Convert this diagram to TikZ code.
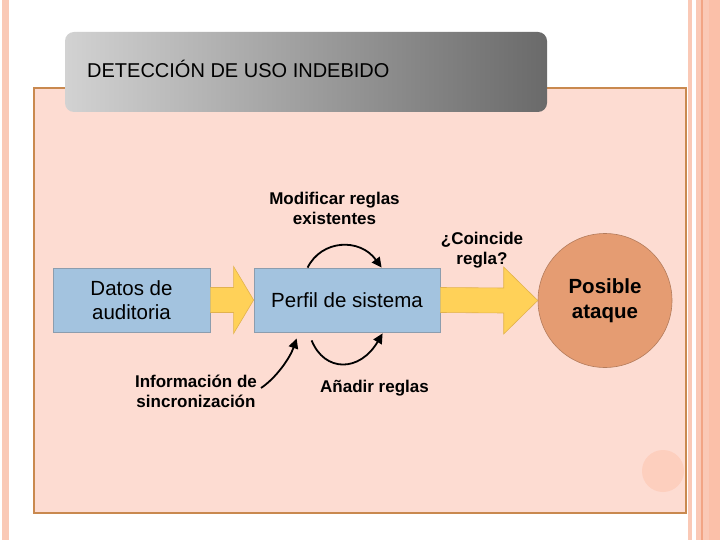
\documentclass[tikz,border=0pt]{standalone}
\usepackage{fontspec}
\setmainfont{Liberation Sans}
\usetikzlibrary{calc,arrows.meta}
\definecolor{stripe}{HTML}{FAC9B6}
\definecolor{stripedark}{HTML}{F2A585}
\definecolor{stripemid}{HTML}{FBC0A9}
\definecolor{panelfill}{HTML}{FDDCD2}
\definecolor{panelline}{HTML}{C9894F}
\definecolor{dotfill}{HTML}{FDCFBE}
\definecolor{boxfill}{HTML}{A3C3DF}
\definecolor{boxline}{HTML}{8C9DAE}
\definecolor{yfill}{HTML}{FFD158}
\definecolor{yline}{HTML}{E2B24E}
\definecolor{cfill}{HTML}{E59C72}
\definecolor{cline}{HTML}{B47C5C}
\definecolor{tleft}{HTML}{D2D2D2}
\definecolor{tmid}{HTML}{8E8E8E}
\definecolor{tright}{HTML}{6A6A6A}
\tikzset{
  bluebox/.style={draw=boxline, line width=0.8pt, fill=boxfill, align=center,
    font=\fontsize{20.5}{24}\selectfont},
  yarrow/.style={fill=yfill, draw=yline, line width=0.6pt, line join=miter},
  endcircle/.style={circle, fill=cfill, draw=cline, line width=0.6pt, minimum size=134pt,
    align=center, font=\fontsize{20.5}{25}\selectfont\bfseries},
  lbl/.style={align=center, font=\fontsize{17}{20}\selectfont\bfseries},
  curvearrow/.style={line width=1.8pt, -{Triangle[length=10pt,width=9.5pt]}}
}
\begin{document}
\begin{tikzpicture}[x=1pt,y=-1pt]
\useasboundingbox (0,0) rectangle (720,540);
\fill[white] (0,0) rectangle (720,540);
% side stripes
\fill[stripe] (2,0) rectangle (9,540);
\fill[stripe] (688,0) rectangle (692,540);
\fill[stripe] (696,0) rectangle (720,540);
\fill[stripedark] (701,0) rectangle (703,540);
\fill[stripemid] (709,0) rectangle (720,540);
% panel
\draw[fill=panelfill, draw=panelline, line width=2pt] (34,88) rectangle (686,513);
\fill[dotfill] (663,471) circle (21);
% title bar
\shade[rounded corners=9pt, left color=tleft, middle color=tmid, right color=tright]
  (65,32) rectangle (547,112);
\node[anchor=base west, inner sep=0pt, font=\fontsize{20}{22}\selectfont] (title) at (87,78)
  {DETECCIÓN DE USO INDEBIDO};
% main nodes
\node[bluebox, minimum width=157pt, minimum height=64pt] (datos) at (131.5,300) {Datos de\\auditoria};
\node[bluebox, minimum width=186pt, minimum height=64pt] (perfil) at (347,300) {Perfil de sistema};
\node[endcircle] (ataque) at (605,300.5) {Posible\\ataque};
% block arrows
\draw[yarrow] ($(datos.east)+(0,-12.5)$) -- ($(perfil.west)+(-20,-12.5)$)
  -- ($(perfil.west)+(-20,-33.5)$) -- (perfil.west) -- ($(perfil.west)+(-20,33.5)$)
  -- ($(perfil.west)+(-20,12.5)$) -- ($(datos.east)+(0,12.5)$);
\draw[yarrow] ($(perfil.east)+(0,-12.5)$) -- ($(ataque.west)+(-34,-12.5)$)
  -- ($(ataque.west)+(-34,-33.5)$) -- (ataque.west) -- ($(ataque.west)+(-34,33.5)$)
  -- ($(ataque.west)+(-34,12.5)$) -- ($(perfil.east)+(0,12.5)$);
% labels
\node[lbl] (modif) at (334.5,208) {Modificar reglas\\existentes};
\node[lbl] (coinc) at (482,250) {¿Coincide\\regla?};
\node[lbl] (info) at (196,391) {Información de\\sincronización};
\node[lbl, anchor=base] (anadir) at (374.5,392) {Añadir reglas};
% curved arrows
\coordinate (infostart) at (261,388);
\draw[curvearrow] ($(perfil.north west)+(54,0)$) .. controls ($(perfil.north west)+(68,-28)$)
  and ($(perfil.north west)+(106,-30)$) .. ($(perfil.north west)+(128,0)$);
\draw[curvearrow] ($(perfil.south west)+(58,8)$) .. controls ($(perfil.south west)+(71,40)$)
  and ($(perfil.south west)+(106,40)$) .. ($(perfil.south west)+(129,1)$);
\draw[curvearrow] (infostart) .. controls (276,378) and (290,358) .. ($(perfil.south west)+(43,6)$);
\end{tikzpicture}
\end{document}
